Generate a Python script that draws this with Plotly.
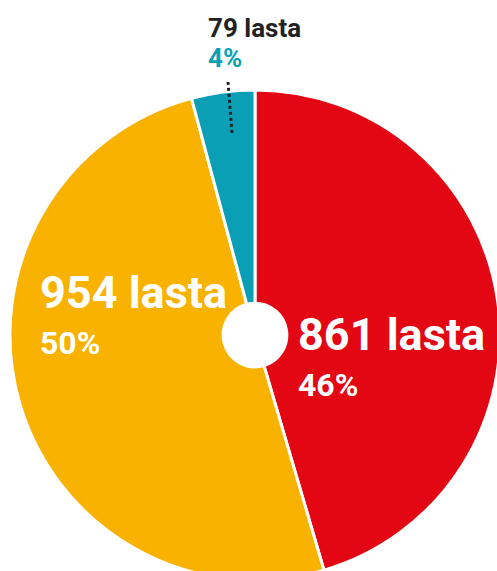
import plotly.graph_objects as go

# Data
labels = ["861 lasta", "954 lasta", "79 lasta"]
values = [861, 954, 79]
pct_text = ["46%", "50%", "4%"]
colors = ["#E30613", "#F9B200", "#0A9FB5"]

FONT = "Roboto, Liberation Sans, sans-serif"
W, H = 510, 590

fig = go.Figure(go.Pie(
    labels=labels,
    values=values,
    sort=False,
    direction="clockwise",
    rotation=0,
    hole=0.13,
    textinfo="none",
    hoverinfo="label+percent",
    marker=dict(colors=colors, line=dict(color="white", width=3)),
    domain=dict(x=[10 / W, 500 / W], y=[1 - 580 / H, 1 - 90 / H]),
))


def label(x, y, text, size, color):
    fig.add_annotation(x=x / W, y=1 - y / H, xref="paper", yref="paper",
                       xanchor="left", yanchor="middle", showarrow=False,
                       text=f"<b>{text}</b>",
                       font=dict(family=FONT, size=size, color=color))


# big labels on the slices
label(38, 292, labels[1], 45, "white")
label(38, 343, pct_text[1], 32, "white")
label(296, 334, labels[0], 45, "white")
label(296, 385, pct_text[0], 32, "white")

# small slice label above the pie
label(206, 28, labels[2], 26, "#222222")
label(206, 58, pct_text[2], 26, colors[2])

# dotted leader line
fig.add_shape(type="line", xref="paper", yref="paper",
              x0=228 / W, y0=1 - 82 / H, x1=232 / W, y1=1 - 133 / H,
              line=dict(color="#222222", width=3, dash="dot"))

fig.update_layout(
    width=W, height=H,
    margin=dict(l=0, r=0, t=0, b=0),
    paper_bgcolor="white",
    plot_bgcolor="white",
    showlegend=False,
)

fig.write_html(
    "out.html",
    config={"displayModeBar": False},
    post_script="document.body.style.margin='0';"
                "document.documentElement.style.overflow='hidden';"
                "document.body.style.overflow='hidden';",
)
